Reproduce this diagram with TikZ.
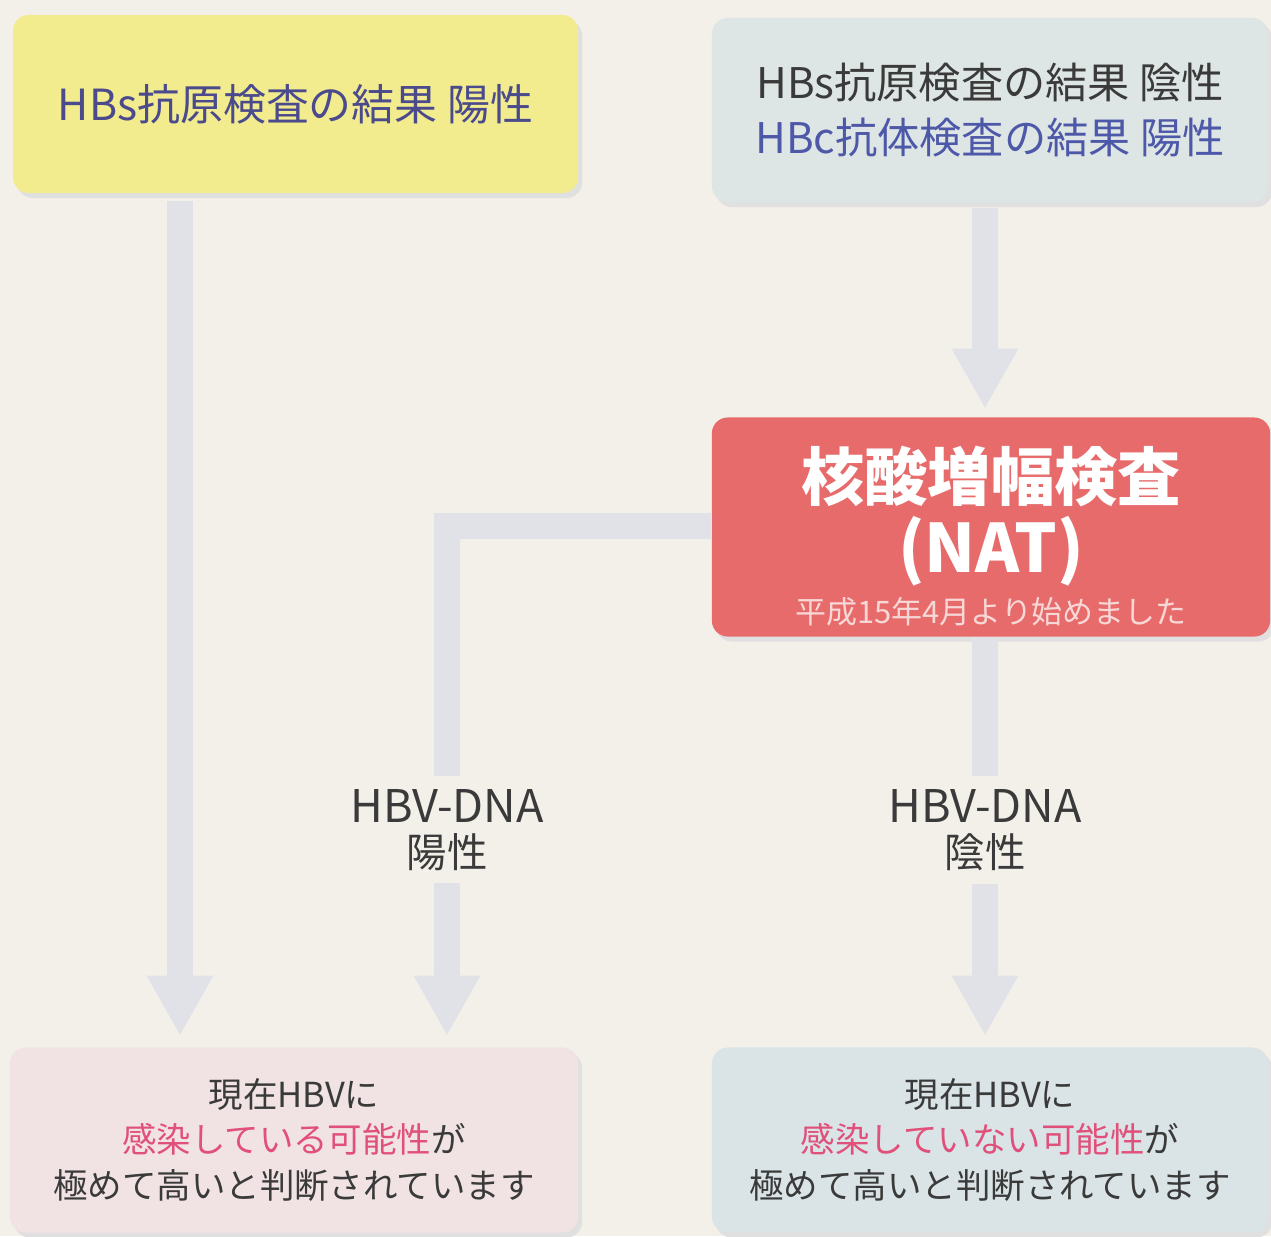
\documentclass[tikz,border=0pt]{standalone}
\usepackage{fontspec}
\setmainfont{Noto Sans CJK JP}
\usetikzlibrary{arrows.meta}
\definecolor{bgc}{HTML}{F3F0EA}
\definecolor{yelbox}{HTML}{F2EC8E}
\definecolor{bluebox}{HTML}{DDE6E4}
\definecolor{redbox}{HTML}{E86B6B}
\definecolor{pinkbox}{HTML}{F1E3E4}
\definecolor{blue2box}{HTML}{DAE4E7}
\definecolor{arrowc}{HTML}{E0E2E8}
\definecolor{darktxt}{HTML}{3A3A3A}
\definecolor{navytxt}{HTML}{4A4A8C}
\definecolor{bluetxt}{HTML}{4E58A8}
\definecolor{redtxt}{HTML}{E0507A}
\definecolor{smalltxt}{HTML}{F8D8D6}
\tikzset{
  box/.style={rounded corners=0.16cm, inner sep=0pt, align=center},
  shadowed/.style={preaction={fill=black!12, transform canvas={xshift=0.04cm,yshift=-0.05cm}}},
  flow/.style={draw=arrowc, line width=0.26cm},
  flowtip/.style={flow, -{Triangle[width=0.62cm,length=0.6cm]}},
  lbl/.style={text=darktxt, align=center, inner sep=0pt}
}
\begin{document}
\begin{tikzpicture}[x=0.01cm,y=-0.01cm]
\fill[bgc] (0,0) rectangle (1271,1236);
\useasboundingbox (0,0) rectangle (1271,1236);

% boxes
\node[box, shadowed, fill=yelbox, minimum width=5.65cm, minimum height=1.78cm,
  text=navytxt, font=\fontsize{12.2}{16}\selectfont] (hbs) at (295.5,104) {HBs抗原検査の結果 陽性};
\node[box, shadowed, fill=bluebox, minimum width=5.56cm, minimum height=1.84cm,
  font=\fontsize{12}{15.5}\selectfont] (hbc) at (990,110)
  {\textcolor{darktxt}{HBs抗原検査の結果 陰性}\\\textcolor{bluetxt}{HBc抗体検査の結果 陽性}};
\node[box, shadowed, fill=redbox, minimum width=5.58cm, minimum height=2.19cm] (nat) at (991,527) {};
\node[lbl, text=white] (nattxt) at (991,536)
  {{\fontsize{18}{19}\selectfont\bfseries 核酸増幅検査}\\[0.06cm]
   {\fontsize{19}{19}\selectfont\bfseries (NAT)}\\[0.08cm]
   {\fontsize{8.8}{10}\selectfont\color{smalltxt}平成15年4月より始めました}};
\node[box, shadowed, fill=pinkbox, minimum width=5.68cm, minimum height=1.85cm,
  text=darktxt, font=\fontsize{9.8}{13}\selectfont] (pos) at (294,1140)
  {現在HBVに\\\textcolor{redtxt}{感染している可能性}が\\極めて高いと判断されています};
\node[box, shadowed, fill=blue2box, minimum width=5.56cm, minimum height=1.85cm,
  text=darktxt, font=\fontsize{9.8}{13}\selectfont] (neg) at (990,1140)
  {現在HBVに\\\textcolor{redtxt}{感染していない可能性}が\\極めて高いと判断されています};

% labels
\node[lbl] (lpos) at (447,830) {{\fontsize{12.8}{16}\selectfont HBV-DNA}\\[0.03cm]{\fontsize{11.5}{16}\selectfont 陽性}};
\node[lbl] (lneg) at (985,830) {{\fontsize{12.8}{16}\selectfont HBV-DNA}\\[0.03cm]{\fontsize{11.5}{16}\selectfont 陰性}};

% coordinates
\coordinate (corner) at (447,526);

% connectors
\draw[flowtip] ([yshift=-0.07cm]hbs.south -| 180,0) -- ([yshift=0.11cm]pos.north -| 180,0);
\draw[flowtip] ([yshift=-0.05cm]hbc.south -| 985,0) -- ([yshift=0.08cm]nat.north -| 985,0);
\draw[flow] (nat.west |- corner) -| ([yshift=0.13cm]lpos.north);
\draw[flowtip] ([yshift=-0.12cm]lpos.south) -- ([yshift=0.11cm]pos.north -| lpos);
\draw[flow] (nat.south -| lneg) -- ([yshift=0.13cm]lneg.north);
\draw[flowtip] ([yshift=-0.12cm]lneg.south) -- ([yshift=0.11cm]neg.north -| lneg);
\end{tikzpicture}
\end{document}
